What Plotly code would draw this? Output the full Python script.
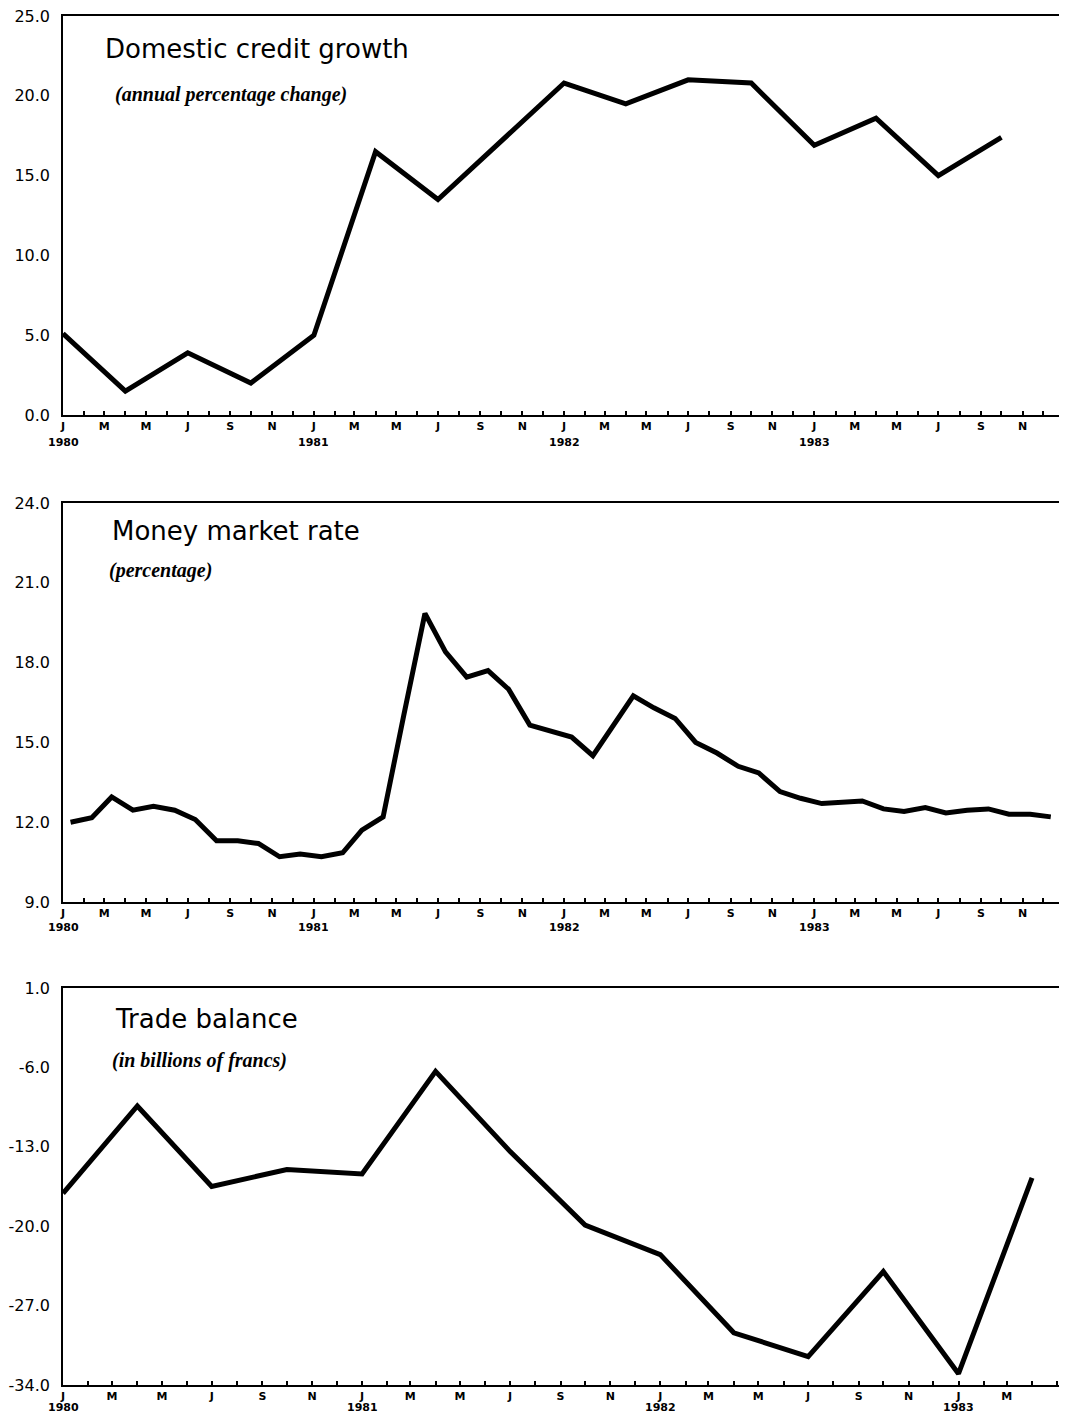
import plotly.graph_objects as go

# page is 1067x1422; body has 8px margin, so the figure is 16px smaller
PAGE_W, PAGE_H = 1067, 1422
OFF = 8
W, H = PAGE_W - 2 * OFF, PAGE_H - 2 * OFF

# ---------------- data ----------------
credit_dates = ["1980-01-01", "1980-04-01", "1980-07-01", "1980-10-01",
                "1981-01-01", "1981-04-01", "1981-07-01", "1981-10-01",
                "1982-01-01", "1982-04-01", "1982-07-01", "1982-10-01",
                "1983-01-01", "1983-04-01", "1983-07-01", "1983-10-01"]
credit_values = [5.1, 1.5, 3.9, 2.0, 5.0, 16.5, 13.5, 17.2,
                 20.8, 19.5, 21.0, 20.8, 16.9, 18.6, 15.0, 17.4]

money_years = [1980, 1981, 1982, 1983]
money_dates = [f"{y}-{m:02d}-12" for y in money_years for m in range(1, 13)]
money_values = [12.0, 12.17, 12.95, 12.45, 12.6, 12.45, 12.1, 11.3, 11.3, 11.2, 10.7, 10.8,
                10.7, 10.85, 11.7, 12.2, 16.0, 19.85, 18.4, 17.45, 17.7, 17.0, 15.65, 15.45,
                15.2, 14.5, 15.6, 16.75, 16.3, 15.9, 15.0, 14.6, 14.1, 13.85, 13.15, 12.9,
                12.7, 12.75, 12.8, 12.5, 12.4, 12.55, 12.35, 12.45, 12.5, 12.3, 12.3, 12.2]

trade_dates = ["1980-01-01", "1980-04-01", "1980-07-01", "1980-10-01",
               "1981-01-01", "1981-04-01", "1981-07-01", "1981-10-01",
               "1982-01-01", "1982-04-01", "1982-07-01", "1982-10-01",
               "1983-01-01", "1983-04-01"]
trade_values = [-17.1, -9.4, -16.5, -15.0, -15.4, -6.35, -13.4, -19.9,
                -22.5, -29.4, -31.5, -24.0, -33.0, -15.75]

credit_yticks = [0, 5, 10, 15, 20, 25]
credit_yticktext = ["0.0", "5.0", "10.0", "15.0", "20.0", "25.0"]
money_yticks = [9, 12, 15, 18, 21, 24]
money_yticktext = ["9.0", "12.0", "15.0", "18.0", "21.0", "24.0"]
trade_yticks = [1, -6, -13, -20, -27, -34]
trade_yticktext = ["1.0", "-6.0", "-13.0", "-20.0", "-27.0", "-34.0"]

month_letters = ["J", "F", "M", "A", "M", "J", "J", "A", "S", "O", "N", "D"]
year_labels = ["1980", "1981", "1982", "1983"]

titles = ["Domestic credit growth", "Money market rate", "Trade balance"]
subtitles = ["(annual percentage change)", "(percentage)", "(in billions of francs)"]


def month_ticks(end_year, end_month, last_label):
    """Monthly ticks Jan 1980 .. end_month/end_year; letters on odd months up to last_label."""
    vals, texts = [], []
    for y in range(1980, end_year + 1):
        for m in range(1, 13):
            if y == end_year and m > end_month:
                break
            vals.append(f"{y}-{m:02d}-01")
            show = m % 2 == 1 and not (y == end_year and m > last_label)
            texts.append(month_letters[m - 1] if show else "")
    return vals, texts


# ---------------- layout geometry (page pixels) ----------------
left_px = 63 - OFF
right_px = W
panels = [(16 - OFF, 415 - OFF), (503 - OFF, 902 - OFF), (988 - OFF, 1385 - OFF)]
year_y = [442 - OFF, 927 - OFF, 1407 - OFF]


def ydom(top, bottom):
    return [1 - bottom / H, 1 - top / H]


fig = go.Figure()
fig.add_trace(go.Scatter(x=credit_dates, y=credit_values, mode="lines",
                         line=dict(color="black", width=5), xaxis="x", yaxis="y"))
fig.add_trace(go.Scatter(x=money_dates, y=money_values, mode="lines",
                         line=dict(color="black", width=5), xaxis="x2", yaxis="y2"))
fig.add_trace(go.Scatter(x=trade_dates, y=trade_values, mode="lines",
                         line=dict(color="black", width=5), xaxis="x3", yaxis="y3"))

xt1, xtt1 = month_ticks(1983, 12, 12)
xt3, xtt3 = month_ticks(1983, 5, 3)

xcommon = dict(type="date", showgrid=False, zeroline=False, showline=True,
               linecolor="black", linewidth=2, mirror=True, ticks="inside",
               ticklen=4, tickwidth=1.5, tickcolor="black", tickmode="array",
               tickangle=0, ticklabeloverflow="allow",
               tickfont=dict(family="DejaVu Sans", size=11, color="black", weight="bold"),
               domain=[0, 1])
ycommon = dict(showgrid=False, zeroline=False, showline=True, linecolor="black",
               linewidth=1.6, ticks="", tickmode="array", ticklabelstandoff=8,
               ticklabeloverflow="allow",
               tickfont=dict(family="DejaVu Sans", size=16, color="black"))

fig.update_layout(
    width=W, height=H,
    margin=dict(l=left_px, r=0, t=0, b=0, autoexpand=False),
    paper_bgcolor="white", plot_bgcolor="white",
    showlegend=False,
    xaxis=dict(xcommon, anchor="y", range=["1980-01-01", "1983-12-24"],
               tickvals=xt1, ticktext=xtt1),
    yaxis=dict(ycommon, anchor="x", domain=ydom(*panels[0]), range=[0, 25],
               tickvals=credit_yticks, ticktext=credit_yticktext),
    xaxis2=dict(xcommon, anchor="y2", range=["1980-01-01", "1983-12-24"],
                tickvals=xt1, ticktext=xtt1),
    yaxis2=dict(ycommon, anchor="x2", domain=ydom(*panels[1]), range=[9, 24],
                tickvals=money_yticks, ticktext=money_yticktext),
    xaxis3=dict(xcommon, anchor="y3", range=["1980-01-01", "1983-05-04"],
                tickvals=xt3, ticktext=xtt3),
    yaxis3=dict(ycommon, anchor="x3", domain=ydom(*panels[2]), range=[-34, 1],
                tickvals=trade_yticks, ticktext=trade_yticktext),
)

# year labels under each January tick
for xref, yy in zip(["x", "x2", "x3"], year_y):
    for yl in year_labels:
        fig.add_annotation(text=yl, xref=xref, yref="paper",
                           x=f"{yl}-01-01", y=1 - yy / H,
                           xanchor="center", yanchor="middle", showarrow=False,
                           height=11,
                           font=dict(family="DejaVu Sans", size=11, color="black",
                                     weight="bold"))

title_pos = [(103, 49), (110, 531), (113, 1019)]
sub_pos = [(113, 95), (107, 570), (110, 1060)]
pw = right_px - left_px
for (tx, ty), (sx, sy), t, s in zip(title_pos, sub_pos, titles, subtitles):
    fig.add_annotation(text=t, xref="paper", yref="paper",
                       x=(tx - OFF - left_px) / pw, y=1 - (ty - OFF) / H,
                       xanchor="left", yanchor="middle", showarrow=False,
                       font=dict(family="DejaVu Sans", size=26, color="black"))
    fig.add_annotation(text=f"<b><i>{s}</i></b>", xref="paper", yref="paper",
                       x=(sx - OFF - left_px) / pw, y=1 - (sy - OFF) / H,
                       xanchor="left", yanchor="middle", showarrow=False,
                       font=dict(family="Liberation Serif", size=20, color="black"))

fig.write_html("out.html")
